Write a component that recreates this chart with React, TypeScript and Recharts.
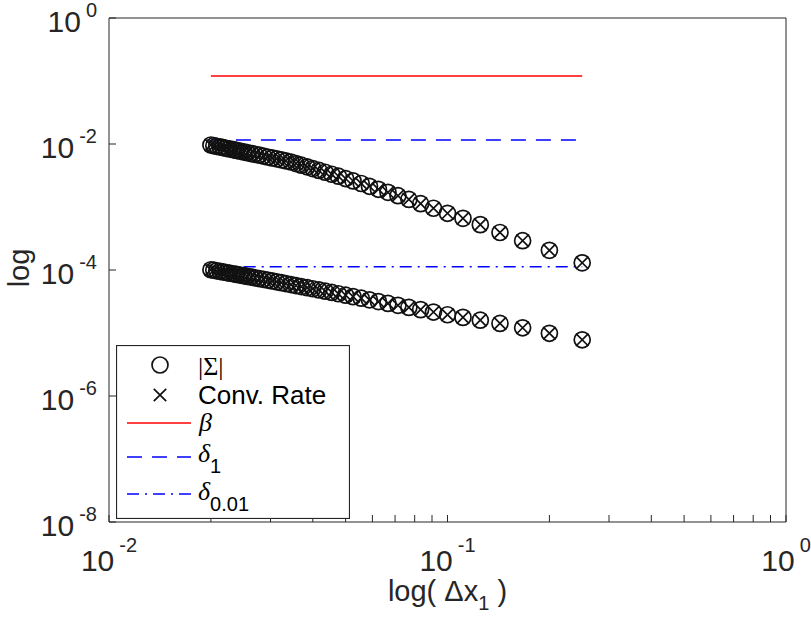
import React from 'react';
import { ScatterChart, Scatter, XAxis, YAxis, ReferenceLine, Legend } from 'recharts';

// step sizes dx_1 (coarsest first)
const stepSizes = [
  0.25, 0.2, 0.1667, 0.1429, 0.125, 0.1111, 0.1, 0.0909, 0.0833, 0.0769,
  0.0714, 0.0667, 0.0625, 0.0588, 0.0556, 0.0526, 0.05, 0.0476, 0.0455, 0.0435,
  0.0417, 0.04, 0.0385, 0.037, 0.0357, 0.0345, 0.0333, 0.0323, 0.0313, 0.0303,
  0.0294, 0.0286, 0.0278, 0.027, 0.0263, 0.0256, 0.025, 0.0244, 0.0238, 0.0233,
  0.0227, 0.0222, 0.0217, 0.0213, 0.0208, 0.0204, 0.02,
];

// |Sigma| for delta = 1 (conv. rate lands on the same points)
const sigmaDelta1 = [
  1.3e-4, 2.05e-4, 2.92e-4, 3.94e-4, 5.25e-4, 6.61e-4, 7.94e-4, 9.55e-4, 1.13e-3, 1.32e-3,
  1.51e-3, 1.71e-3, 1.91e-3, 2.13e-3, 2.36e-3, 2.59e-3, 2.83e-3, 3.08e-3, 3.31e-3, 3.56e-3,
  3.81e-3, 4.07e-3, 4.34e-3, 4.61e-3, 4.89e-3, 5.18e-3, 5.4e-3, 5.6e-3, 5.81e-3, 6.01e-3,
  6.22e-3, 6.43e-3, 6.64e-3, 6.86e-3, 7.06e-3, 7.28e-3, 7.48e-3, 7.69e-3, 7.91e-3, 8.13e-3,
  8.34e-3, 8.55e-3, 8.77e-3, 9.0e-3, 9.2e-3, 9.42e-3, 9.64e-3,
];

// |Sigma| for delta = 0.01
const sigmaDelta001 = [
  7.8e-6, 9.9e-6, 1.21e-5, 1.42e-5, 1.6e-5, 1.77e-5, 1.95e-5, 2.15e-5, 2.35e-5, 2.55e-5,
  2.75e-5, 2.95e-5, 3.15e-5, 3.36e-5, 3.57e-5, 3.78e-5, 3.99e-5, 4.2e-5, 4.41e-5, 4.62e-5,
  4.83e-5, 5.04e-5, 5.24e-5, 5.45e-5, 5.66e-5, 5.87e-5, 6.08e-5, 6.29e-5, 6.5e-5, 6.71e-5,
  6.92e-5, 7.12e-5, 7.32e-5, 7.52e-5, 7.72e-5, 7.92e-5, 8.12e-5, 8.32e-5, 8.52e-5, 8.72e-5,
  8.92e-5, 9.12e-5, 9.32e-5, 9.52e-5, 9.72e-5, 9.92e-5, 1.01e-4,
];

// horizontal bounds
const betaLevel = 0.12;
const delta1Level = 0.0116;
const delta001Level = 1.13e-4;
const betaRange = [0.02, 0.25];
const delta1Range = [0.02, 0.25];
const delta001Range = [0.025, 0.25];

const xMajorTicks = [0.01, 0.1, 1];
const xMinorTicks = [0.02, 0.03, 0.04, 0.05, 0.06, 0.07, 0.08, 0.09, 0.2, 0.3, 0.4, 0.5, 0.6, 0.7, 0.8, 0.9];
const yMajorTicks = [1e-8, 1e-6, 1e-4, 1e-2, 1];

const AXIS = '#262626';
const SANS = '"Liberation Sans", Arial, Helvetica, sans-serif';
const SERIF = '"Liberation Serif", "DejaVu Serif", serif';

const pointsDelta1 = stepSizes.map((x, i) => ({ x, y: sigmaDelta1[i] }));
const pointsDelta001 = stepSizes.map((x, i) => ({ x, y: sigmaDelta001[i] }));

const circleMarker = (p: any) => (
  <circle cx={p.cx} cy={p.cy} r={8} fill="none" stroke="#111" strokeWidth={1.7} />
);

const crossMarker = (p: any) => (
  <path
    d={`M${p.cx - 6.2},${p.cy - 6.2}L${p.cx + 6.2},${p.cy + 6.2}M${p.cx - 6.2},${p.cy + 6.2}L${p.cx + 6.2},${p.cy - 6.2}`}
    stroke="#111"
    strokeWidth={1.7}
    fill="none"
  />
);

const exponent = (v: number) => String(Math.round(Math.log10(v)));

function XTick({ x, y, payload }: any) {
  if (!xMajorTicks.includes(payload.value)) return <g />;
  return (
    <text x={x} y={y + 49} textAnchor="middle" fontFamily={SANS} fontSize={30} fill={AXIS}>
      10<tspan dx={5} dy={-19} fontSize={20}>{exponent(payload.value)}</tspan>
    </text>
  );
}

function YTick({ x, y, payload }: any) {
  return (
    <text x={x - 12} y={y + 14} textAnchor="end" fontFamily={SANS} fontSize={30} fill={AXIS}>
      10<tspan dx={5} dy={-15} fontSize={20}>{exponent(payload.value)}</tspan>
    </text>
  );
}

function XTitle({ viewBox }: any) {
  const cx = viewBox.x + viewBox.width / 2;
  return (
    <text x={cx} y={viewBox.y + 79} textAnchor="middle" fontFamily={SANS} fontSize={29} fill={AXIS}>
      log( Δx<tspan dy={9} fontSize={20}>1</tspan><tspan dy={-9}> )</tspan>
    </text>
  );
}

function YTitle() {
  return (
    <text x={29} y={268} transform="rotate(-90, 29, 268)" textAnchor="middle" fontFamily={SANS} fontSize={29} fill={AXIS}>
      log
    </text>
  );
}

function LegendBox() {
  return (
    <svg width={234} height={174} style={{ display: 'block' }}>
      <rect x={0.5} y={0.5} width={233} height={173} fill="#fff" stroke={AXIS} strokeWidth={1.2} />
      {circleMarker({ cx: 44, cy: 20 })}
      <text x={82} y={30} fontFamily={SERIF} fontSize={26} fill="#000">|Σ|</text>
      {crossMarker({ cx: 44, cy: 50 })}
      <text x={82} y={59} fontFamily={SANS} fontSize={26} fill="#000">Conv. Rate</text>
      <line x1={11} x2={75} y1={78} y2={78} stroke="#ff0000" strokeWidth={1.5} />
      <text x={83} y={86} fontFamily={SERIF} fontStyle="italic" fontSize={26} fill="#000">β</text>
      <line x1={11} x2={75} y1={112} y2={112} stroke="#0000ff" strokeWidth={1.5} strokeDasharray="15 10" />
      <text x={82} y={117} fontFamily={SERIF} fontStyle="italic" fontSize={26} fill="#000">
        δ<tspan dy={11} fontFamily={SANS} fontStyle="normal" fontSize={20}>1</tspan>
      </text>
      <line x1={11} x2={75} y1={149} y2={149} stroke="#0000ff" strokeWidth={1.5} strokeDasharray="12 6 2 6" />
      <text x={82} y={155} fontFamily={SERIF} fontStyle="italic" fontSize={26} fill="#000">
        δ<tspan dy={11} fontFamily={SANS} fontStyle="normal" fontSize={20}>0.01</tspan>
      </text>
    </svg>
  );
}

export default function App() {
  const allXTicks = [...xMajorTicks, ...xMinorTicks].sort((a, b) => a - b);
  return (
    <div style={{ position: 'absolute', left: 0, top: 0, width: 811, height: 621, background: '#fff' }}>
      <ScatterChart width={811} height={621} margin={{ top: 17, right: 24, bottom: 0, left: 0 }}>
        <XAxis
          dataKey="x"
          type="number"
          scale="log"
          domain={[0.01, 1]}
          allowDataOverflow
          ticks={allXTicks}
          interval={0}
          tick={<XTick />}
          tickSize={-7}
          tickMargin={7}
          height={99}
          stroke={AXIS}
          label={<XTitle />}
        />
        <XAxis
          xAxisId="top"
          orientation="top"
          type="number"
          scale="log"
          domain={[0.01, 1]}
          allowDataOverflow
          ticks={allXTicks}
          interval={0}
          tick={false}
          tickSize={-7}
          height={1}
          stroke={AXIS}
        />
        <YAxis
          dataKey="y"
          type="number"
          scale="log"
          domain={[1e-8, 1]}
          allowDataOverflow
          ticks={yMajorTicks}
          interval={0}
          tick={<YTick />}
          tickSize={-7}
          tickMargin={7}
          width={109}
          stroke={AXIS}
          label={<YTitle />}
        />
        <YAxis
          yAxisId="right"
          orientation="right"
          type="number"
          scale="log"
          domain={[1e-8, 1]}
          allowDataOverflow
          ticks={yMajorTicks}
          interval={0}
          tick={false}
          tickSize={-7}
          width={1}
          stroke={AXIS}
        />
        <ReferenceLine
          segment={[{ x: betaRange[0], y: betaLevel }, { x: betaRange[1], y: betaLevel }]}
          stroke="#ff0000"
          strokeWidth={1.5}
        />
        <ReferenceLine
          segment={[{ x: delta1Range[0], y: delta1Level }, { x: delta1Range[1], y: delta1Level }]}
          stroke="#0000ff"
          strokeWidth={1.5}
          strokeDasharray="15 10"
        />
        <ReferenceLine
          segment={[{ x: delta001Range[0], y: delta001Level }, { x: delta001Range[1], y: delta001Level }]}
          stroke="#0000ff"
          strokeWidth={1.5}
          strokeDasharray="12 6 2 6"
        />
        <Scatter data={pointsDelta1} shape={circleMarker} isAnimationActive={false} />
        <Scatter data={pointsDelta001} shape={circleMarker} isAnimationActive={false} />
        <Scatter data={pointsDelta1} shape={crossMarker} isAnimationActive={false} />
        <Scatter data={pointsDelta001} shape={crossMarker} isAnimationActive={false} />
        <Legend
          layout="vertical"
          align="center"
          verticalAlign="middle"
          content={<LegendBox />}
          wrapperStyle={{ left: 116, top: 345, width: 234, height: 174 }}
        />
      </ScatterChart>
    </div>
  );
}
